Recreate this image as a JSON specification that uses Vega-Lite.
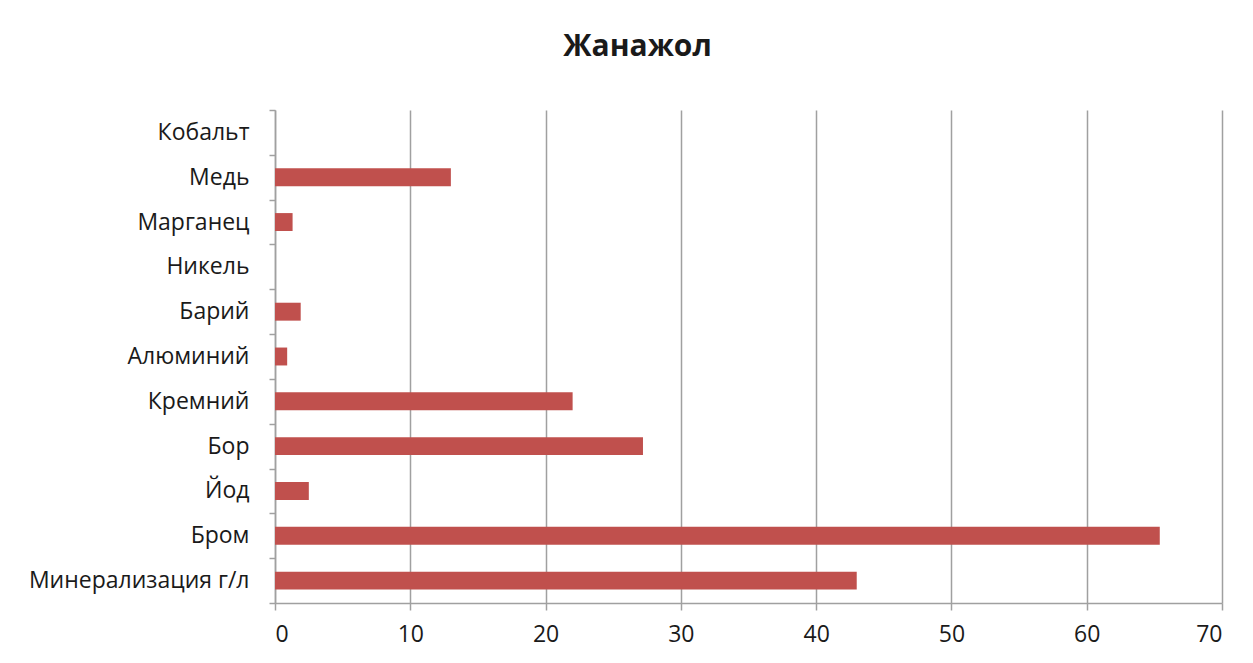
{
  "$schema": "https://vega.github.io/schema/vega-lite/v6.json",
  "autosize": "none",
  "width": 947,
  "height": 493,
  "padding": {"left": 275, "top": 110, "right": 31, "bottom": 60},
  "background": "white",
  "title": {
    "text": "Жанажол",
    "font": "Open Sans",
    "fontSize": 30,
    "fontWeight": "bold",
    "color": "#1a1a1a",
    "anchor": "middle",
    "frame": "group",
    "baseline": "alphabetic",
    "dx": -111,
    "offset": 13
  },
  "data": {
    "values": [
      {"element": "Кобальт", "value": 0},
      {"element": "Медь", "value": 13},
      {"element": "Марганец", "value": 1.3},
      {"element": "Никель", "value": 0},
      {"element": "Барий", "value": 1.9},
      {"element": "Алюминий", "value": 0.9},
      {"element": "Кремний", "value": 22},
      {"element": "Бор", "value": 27.2},
      {"element": "Йод", "value": 2.5},
      {"element": "Бром", "value": 65.4},
      {"element": "Минерализация г/л", "value": 43}
    ]
  },
  "mark": {"type": "bar", "color": "#c0504d", "height": {"band": 0.4}},
  "encoding": {
    "y": {
      "field": "element",
      "type": "nominal",
      "sort": null,
      "scale": {"paddingInner": 0, "paddingOuter": 0},
      "axis": {
        "title": null,
        "tickBand": "extent",
        "grid": false,
        "domainColor": "#a0a0a0",
        "domainWidth": 1.5,
        "tickColor": "#a0a0a0",
        "tickWidth": 1.5,
        "tickSize": 6,
        "labelPadding": 20,
        "labelLimit": 400,
        "labelFont": "Open Sans",
        "labelFontSize": 23,
        "labelColor": "#1a1a1a"
      }
    },
    "x": {
      "field": "value",
      "type": "quantitative",
      "scale": {"domain": [0, 70], "nice": false},
      "axis": {
        "title": null,
        "values": [0, 10, 20, 30, 40, 50, 60, 70],
        "grid": true,
        "gridColor": "#a0a0a0",
        "gridWidth": 1.5,
        "domainColor": "#a0a0a0",
        "domainWidth": 1.5,
        "tickColor": "#a0a0a0",
        "tickWidth": 1.5,
        "tickSize": 7,
        "labelPadding": 13,
        "labelFont": "Open Sans",
        "labelFontSize": 23,
        "labelColor": "#1a1a1a"
      }
    }
  },
  "config": {"view": {"stroke": null}}
}
